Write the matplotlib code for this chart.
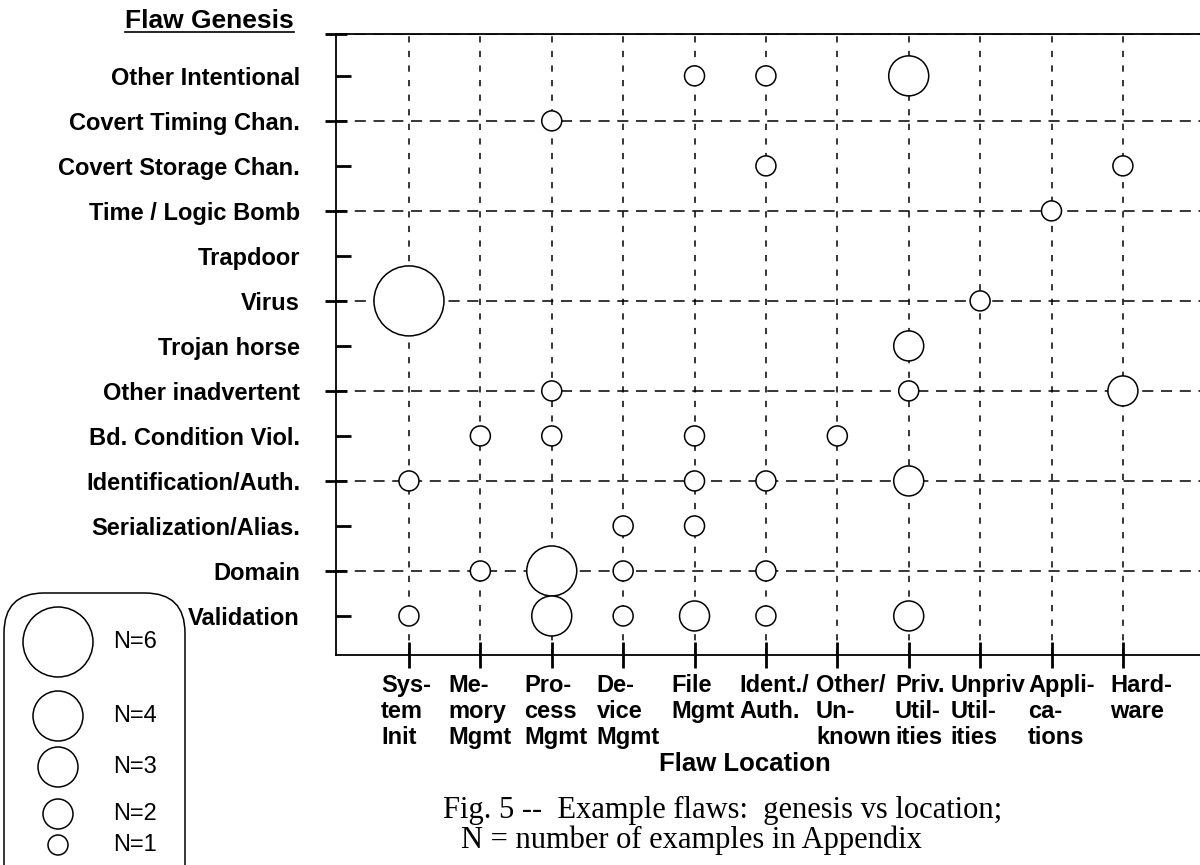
import matplotlib
matplotlib.use('Agg')
import matplotlib.pyplot as plt
import matplotlib.transforms as mtransforms
from matplotlib.patches import FancyBboxPatch
from matplotlib.lines import Line2D

plt.rcParams['font.family'] = ['Liberation Sans', 'DejaVu Sans']
plt.rcParams['lines.scale_dashes'] = False

# flaw location (x axis), left to right
location_names = ['System Init', 'Memory Mgmt', 'Process Mgmt', 'Device Mgmt', 'File Mgmt',
                  'Ident./Auth.', 'Other/Unknown', 'Priv. Utilities', 'Unpriv Utilities',
                  'Applications', 'Hardware']
location_labels = ['Sys-\ntem\nInit', 'Me-\nmory\nMgmt', 'Pro-\ncess\nMgmt', 'De-\nvice\nMgmt',
                   'File\nMgmt', 'Ident./\nAuth.', 'Other/\nUn-\nknown', 'Priv.\nUtil-\nities',
                   'Unpriv\nUtil-\nities', 'Appli-\nca-\ntions', 'Hard-\nware']

# flaw genesis (y axis), bottom to top
genesis_names = ['Validation', 'Domain', 'Serialization/Alias.', 'Identification/Auth.',
                 'Bd. Condition Viol.', 'Other inadvertent', 'Trojan horse', 'Virus', 'Trapdoor',
                 'Time / Logic Bomb', 'Covert Storage Chan.', 'Covert Timing Chan.',
                 'Other Intentional']

# one entry per bubble
flaw_genesis = ['Other Intentional', 'Other Intentional', 'Other Intentional',
                'Covert Timing Chan.',
                'Covert Storage Chan.', 'Covert Storage Chan.',
                'Time / Logic Bomb',
                'Virus', 'Virus',
                'Trojan horse',
                'Other inadvertent', 'Other inadvertent', 'Other inadvertent',
                'Bd. Condition Viol.', 'Bd. Condition Viol.', 'Bd. Condition Viol.', 'Bd. Condition Viol.',
                'Identification/Auth.', 'Identification/Auth.', 'Identification/Auth.', 'Identification/Auth.',
                'Serialization/Alias.', 'Serialization/Alias.',
                'Domain', 'Domain', 'Domain', 'Domain',
                'Validation', 'Validation', 'Validation', 'Validation', 'Validation', 'Validation']
flaw_location = ['File Mgmt', 'Ident./Auth.', 'Priv. Utilities',
                 'Process Mgmt',
                 'Ident./Auth.', 'Hardware',
                 'Applications',
                 'System Init', 'Unpriv Utilities',
                 'Priv. Utilities',
                 'Process Mgmt', 'Priv. Utilities', 'Hardware',
                 'Memory Mgmt', 'Process Mgmt', 'File Mgmt', 'Other/Unknown',
                 'System Init', 'File Mgmt', 'Ident./Auth.', 'Priv. Utilities',
                 'Device Mgmt', 'File Mgmt',
                 'Memory Mgmt', 'Process Mgmt', 'Device Mgmt', 'Ident./Auth.',
                 'System Init', 'Process Mgmt', 'Device Mgmt', 'File Mgmt', 'Ident./Auth.', 'Priv. Utilities']
flaw_count = [1, 1, 3,
              1,
              1, 1,
              1,
              6, 1,
              2,
              1, 1, 2,
              1, 1, 1, 1,
              1, 1, 1, 2,
              1, 1,
              1, 4, 1, 1,
              1, 3, 1, 2, 1, 2]

legend_counts = [6, 4, 3, 2, 1]


def bubble_size(n):
    # marker area in pt^2, diameter grows ~10px per example
    d_px = 10 + 10 * n
    return (d_px * 0.72) ** 2


W, H = 1200, 865
fig = plt.figure(figsize=(W / 100, H / 100), dpi=100)

left, right, top, bottom = 336, 1200, 34, 655
ax = fig.add_axes([left / W, 1 - bottom / H, (right - left) / W, (bottom - top) / H])

xs = [location_names.index(l) for l in flaw_location]
ys = [genesis_names.index(g) for g in flaw_genesis]
ax.scatter(xs, ys, s=[bubble_size(n) for n in flaw_count], facecolors='white',
           edgecolors='black', linewidths=1.1, zorder=3)

ax.set_xlim(-1.022, 11.08)
ax.set_ylim(-0.867, 12.93)

for side in ['left', 'bottom', 'top']:
    ax.spines[side].set_linewidth(1.3)
ax.spines['right'].set_visible(False)

# x axis
ax.set_xticks(range(len(location_names)))
ax.set_xticklabels(location_labels, fontsize=17, fontweight='bold', linespacing=1.17,
                   ha='center', va='top', multialignment='left')
ax.tick_params(axis='x', direction='inout', length=18.7, width=2, pad=4.5)
# nudge the label blocks sideways a little, as in the original layout (pixels)
label_shift = [-3, 0, 4, 5, 8, 8, 16, 11, 8, 10, 18]
for lab, dx in zip(ax.get_xticklabels(), label_shift):
    lab.set_transform(lab.get_transform() +
                      mtransforms.ScaledTranslation(dx / 100, 0, fig.dpi_scale_trans))

# y axis: gridded rows are major ticks, the others minor
major_rows = [i for i in range(len(genesis_names)) if i % 2 == 1]
minor_rows = [i for i in range(len(genesis_names)) if i % 2 == 0]
ax.set_yticks(major_rows + [ax.get_ylim()[1]])
ax.set_yticklabels([genesis_names[i] for i in major_rows] + [''])
ax.set_yticks(minor_rows, minor=True)
ax.set_yticklabels([genesis_names[i] for i in minor_rows], minor=True)
ax.tick_params(axis='y', which='major', direction='inout', length=15.8, width=2, pad=18)
ax.tick_params(axis='y', which='minor', direction='in', length=10.8, width=2, pad=26)
for lab in ax.get_yticklabels(which='both'):
    lab.set_fontsize(17)
    lab.set_fontweight('bold')

ax.grid(axis='y', which='major', color='black', linewidth=1.1, dashes=(8, 5.5))
ax.grid(axis='x', which='major', color='black', linewidth=1.1, dashes=(4.5, 6))

# axis titles / caption
title = fig.text(125 / W, 1 - 28 / H, 'Flaw Genesis', fontsize=19, fontweight='bold',
                 ha='left', va='baseline')
fig.text(745 / W, 1 - 771 / H, 'Flaw Location', fontsize=18.5, fontweight='bold',
         ha='center', va='baseline')
serif = ['Liberation Serif', 'DejaVu Serif']
fig.text(443 / W, 1 - 818 / H, 'Fig. 5 --  Example flaws:  genesis vs location;',
         fontsize=22, family=serif, ha='left', va='baseline')
fig.text(461 / W, 1 - 848 / H, 'N = number of examples in Appendix',
         fontsize=22, family=serif, ha='left', va='baseline')

# underline under "Flaw Genesis"
fig.canvas.draw()
bb = title.get_window_extent()
uy = 1 - 32 / H
fig.add_artist(Line2D([bb.x0 / W, bb.x1 / W], [uy, uy], color='black', linewidth=1.2))

# size legend in a rounded box, drawn in pixel coordinates
lax = fig.add_axes([0, 0, 230 / W, 300 / H])
lax.set_xlim(0, 230)
lax.set_ylim(865, 565)
lax.axis('off')
lax.add_patch(FancyBboxPatch((4, 593), 181, 320, boxstyle='round,pad=0,rounding_size=40',
                             facecolor='white', edgecolor='black', linewidth=1.1))
legend_y = [642, 716, 767, 814, 845]
lax.scatter([58] * len(legend_counts), legend_y, s=[bubble_size(n) for n in legend_counts],
            facecolors='white', edgecolors='black', linewidths=1.1, zorder=3)
for n, y in zip(legend_counts, legend_y):
    lax.text(113, y, f'N={n}', fontsize=17, ha='left', va='center')

fig.savefig('out.png', dpi=100)
